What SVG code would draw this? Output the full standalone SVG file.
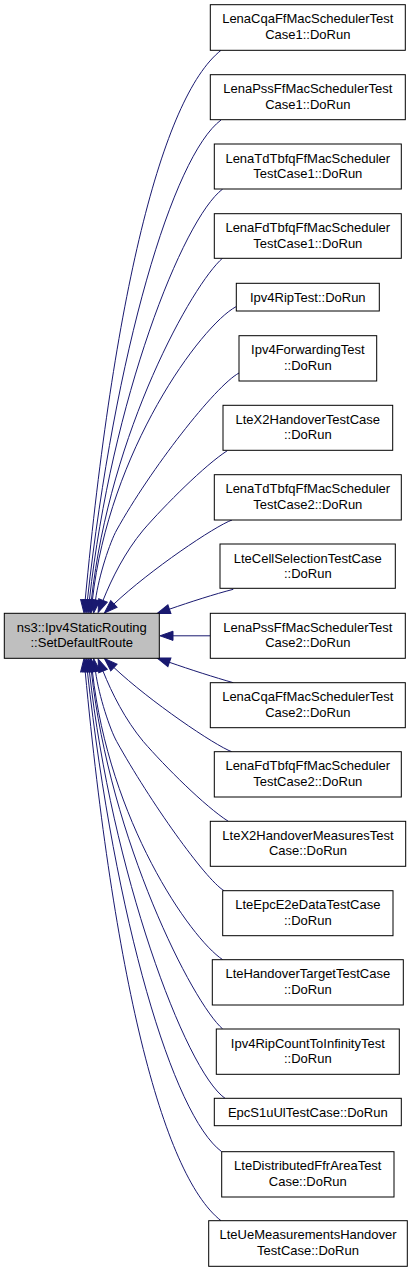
<svg xmlns="http://www.w3.org/2000/svg" width="413" height="1272" viewBox="0 0 413 1272">
<style>
.n rect{fill:#ffffff;stroke:#000000;stroke-width:1}
#main rect{fill:#bfbfbf}
.n text{font-family:"Liberation Sans",Arial,sans-serif;font-size:13px;text-anchor:middle;fill:#000000}
.e path{fill:none;stroke:#191970;stroke-width:1;marker-end:url(#ah)}
</style>
<defs>
<marker id="ah" markerUnits="userSpaceOnUse" markerWidth="16" markerHeight="14" refX="1" refY="7" orient="auto" viewBox="0 0 16 14">
<path d="M1,2.4 L14,7 L1,11.6 Z" fill="#191970" stroke="#191970" stroke-width="1"/>
</marker>
</defs>
<rect width="413" height="1272" fill="#ffffff"/>
<g id="edges" class="e">
<path d="M221,50.3 C161,98 113.5,300 85.2,600"/>
<path d="M221,120 C173,156 115,351 87.4,600"/>
<path d="M222.7,189 C182.7,219 111.4,401 89.4,600"/>
<path d="M222.7,258 C192.7,284 110,431 91.4,600"/>
<path d="M236,306.7 C201,325.6 109,451 92.4,600"/>
<path d="M239,373 C215,386 150,470 116.7,530 C110,542 99,575 95.5,600"/>
<path d="M227.3,450.7 C205,465 165,505 143.3,530 C125,552 112,578 103,600.4"/>
<path d="M232,520 C215,526 150,570 113.9,604"/>
<path d="M233.3,589.3 C215,594 190,602 169.4,609.2"/>
<path d="M210.3,635.8 L173,635.8"/>
<path d="M233.3,682.7 C215,677.5 190,669.5 169.4,662.3"/>
<path d="M231.7,751.7 C215,745.5 150,701.5 113.9,667.5"/>
<path d="M228.3,821.3 C205,806.5 165,766.5 143.3,741.5 C125,719.5 112,693.5 103,671.1"/>
<path d="M224,890.7 C205,879 150,801.5 116.7,741.5 C110,729.5 99,696.5 95.5,671.5"/>
<path d="M222.7,959.7 C190,938 109,820.5 92.4,671.5"/>
<path d="M222.7,1029 C192.7,1003 110,840.5 91.4,671.5"/>
<path d="M225,1098.3 C185,1070 111.4,870.5 89.4,671.5"/>
<path d="M221.7,1151.7 C173,1115.5 115,920.5 87.4,671.5"/>
<path d="M221,1220.7 C161,1173.5 113.5,971.5 85.2,671.5"/>
</g>
<g id="main" class="n"><rect x="4.3" y="613.3" width="155" height="45"/><text x="81.8" y="631.7">ns3::Ipv4StaticRouting</text><text x="81.8" y="647.3">::SetDefaultRoute</text></g>
<g id="n1" class="n"><rect x="210.3" y="4.7" width="195" height="45.6"/><text x="307.8" y="23.3">LenaCqaFfMacSchedulerTest</text><text x="307.8" y="39">Case1::DoRun</text></g>
<g id="n2" class="n"><rect x="210.3" y="74.7" width="195" height="45"/><text x="307.8" y="93.2">LenaPssFfMacSchedulerTest</text><text x="307.8" y="108.8">Case1::DoRun</text></g>
<g id="n3" class="n"><rect x="214.3" y="144" width="187" height="45"/><text x="307.8" y="162.5">LenaTdTbfqFfMacScheduler</text><text x="307.8" y="178.1">TestCase1::DoRun</text></g>
<g id="n4" class="n"><rect x="214.3" y="213.7" width="187" height="44.6"/><text x="307.8" y="232.2">LenaFdTbfqFfMacScheduler</text><text x="307.8" y="247.8">TestCase1::DoRun</text></g>
<g id="n5" class="n"><rect x="236.3" y="283.3" width="143" height="27.7"/><text x="307.8" y="301.6">Ipv4RipTest::DoRun</text></g>
<g id="n6" class="n"><rect x="239" y="335.7" width="137.7" height="45.3"/><text x="307.8" y="354.2">Ipv4ForwardingTest</text><text x="307.8" y="369.8">::DoRun</text></g>
<g id="n7" class="n"><rect x="223" y="405.3" width="169.7" height="45"/><text x="307.8" y="423.8">LteX2HandoverTestCase</text><text x="307.8" y="439.4">::DoRun</text></g>
<g id="n8" class="n"><rect x="214.3" y="474.7" width="187" height="45.3"/><text x="307.8" y="493.2">LenaTdTbfqFfMacScheduler</text><text x="307.8" y="508.8">TestCase2::DoRun</text></g>
<g id="n9" class="n"><rect x="220" y="544" width="175.3" height="44.3"/><text x="307.8" y="562.5">LteCellSelectionTestCase</text><text x="307.8" y="578.1">::DoRun</text></g>
<g id="n10" class="n"><rect x="210.3" y="613.3" width="195" height="45"/><text x="307.8" y="631.7">LenaPssFfMacSchedulerTest</text><text x="307.8" y="647.3">Case2::DoRun</text></g>
<g id="n11" class="n"><rect x="210.3" y="682.7" width="195" height="45"/><text x="307.8" y="701.2">LenaCqaFfMacSchedulerTest</text><text x="307.8" y="716.8">Case2::DoRun</text></g>
<g id="n12" class="n"><rect x="214.3" y="751.7" width="187" height="45.3"/><text x="307.8" y="770.2">LenaFdTbfqFfMacScheduler</text><text x="307.8" y="785.8">TestCase2::DoRun</text></g>
<g id="n13" class="n"><rect x="210.3" y="821.3" width="195.4" height="45"/><text x="308" y="839.8">LteX2HandoverMeasuresTest</text><text x="308" y="855.4">Case::DoRun</text></g>
<g id="n14" class="n"><rect x="222.7" y="890.7" width="170.3" height="45"/><text x="307.8" y="909.2">LteEpcE2eDataTestCase</text><text x="307.8" y="924.8">::DoRun</text></g>
<g id="n15" class="n"><rect x="212.3" y="959.7" width="191" height="45.3"/><text x="307.8" y="978.2">LteHandoverTargetTestCase</text><text x="307.8" y="993.8">::DoRun</text></g>
<g id="n16" class="n"><rect x="216.3" y="1029" width="183" height="45.3"/><text x="307.8" y="1047.5">Ipv4RipCountToInfinityTest</text><text x="307.8" y="1063.1">::DoRun</text></g>
<g id="n17" class="n"><rect x="214.3" y="1098.3" width="187" height="27.4"/><text x="307.8" y="1116.6">EpcS1uUlTestCase::DoRun</text></g>
<g id="n18" class="n"><rect x="221.7" y="1151.7" width="172.3" height="45.3"/><text x="307.8" y="1170.2">LteDistributedFfrAreaTest</text><text x="307.8" y="1185.8">Case::DoRun</text></g>
<g id="n19" class="n"><rect x="208.7" y="1220.7" width="198.6" height="45.6"/><text x="308" y="1239.2">LteUeMeasurementsHandover</text><text x="308" y="1254.8">TestCase::DoRun</text></g>
</svg>
